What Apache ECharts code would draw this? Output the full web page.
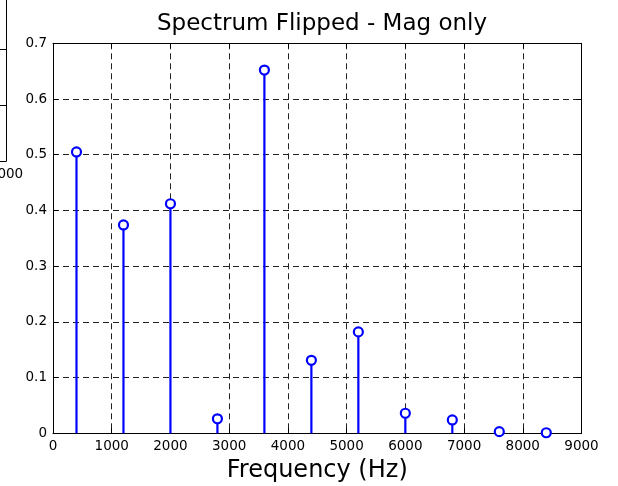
<!DOCTYPE html>
<html>
<head>
<meta charset="utf-8">
<script src="https://cdn.jsdelivr.net/npm/echarts@6/dist/echarts.min.js"></script>
<style>
  html, body { margin: 0; padding: 0; background: #fff; }
  #chart { width: 618px; height: 486px; }
</style>
</head>
<body>
<div id="chart"></div>
<script>
// stem plot: flipped spectrum, magnitude only
var freqs = [400, 1200, 2000, 2800, 3600, 4400, 5200, 6000, 6800, 7600, 8400]
var mags = [0.505, 0.374, 0.412, 0.026, 0.652, 0.131, 0.182, 0.036, 0.024, 0.003, 0.001]
var xTicks = [0, 1000, 2000, 3000, 4000, 5000, 6000, 7000, 8000, 9000]
var yTicks = [0, 0.1, 0.2, 0.3, 0.4, 0.5, 0.6, 0.7]

var font = 'DejaVu Sans'
var blue = '#0000ff'
var gridLine = { show: true, lineStyle: { color: '#222', width: 1, type: [6, 4] } }

var stemData = freqs.map(function (f, i) { return [f, mags[i]] })

var chart = echarts.init(document.getElementById('chart'), null, { renderer: 'canvas' })

var option = {
    backgroundColor: '#fff',
    animation: false,
    title: {
        text: 'Spectrum Flipped - Mag only',
        left: 317,
        textAlign: 'center',
        top: 8,
        textStyle: { fontFamily: font, fontSize: 23, fontWeight: 'normal', color: '#000' }
    },
    grid: [
        { left: 53, right: 36.5, top: 43.3, bottom: 52.7, outerBoundsMode: 'none' },
        // leftover of the neighbouring subplot, clipped at the left edge
        { left: -400, right: 612, top: -7, bottom: 325, outerBoundsMode: 'none' }
    ],
    xAxis: [{
        type: 'value', gridIndex: 0, min: 0, max: 9000, interval: 1000,
        axisLine: { show: true, onZero: false, lineStyle: { color: '#000', width: 1 } },
        axisTick: { show: true, inside: true, length: 5, lineStyle: { color: '#000' } },
        axisLabel: { color: '#000', fontFamily: font, fontSize: 13.5, margin: 6,
            formatter: function (v) { return xTicks.indexOf(v) >= 0 ? String(v) : '' } },
        splitLine: gridLine,
        name: 'Frequency (Hz)', nameLocation: 'middle', nameGap: 25,
        nameTextStyle: { fontFamily: font, fontSize: 24, color: '#000' }
    }, {
        type: 'value', gridIndex: 0, position: 'top', min: 0, max: 9000, interval: 1000,
        axisLine: { show: true, onZero: false, lineStyle: { color: '#000', width: 1 } },
        axisTick: { show: true, inside: true, length: 5, lineStyle: { color: '#000' } },
        axisLabel: { show: false }, splitLine: { show: false }
    }, {
        type: 'value', gridIndex: 1, min: 0, max: 4000, interval: 1000,
        axisLine: { show: true, onZero: false, lineStyle: { color: '#000', width: 1 } },
        axisTick: { show: false },
        axisLabel: { color: '#000', fontFamily: font, fontSize: 13.5, margin: 6, showMaxLabel: true,
            formatter: function (v) { return String(v) } },
        splitLine: { show: false }
    }],
    yAxis: [{
        type: 'value', gridIndex: 0, min: 0, max: 0.7, interval: 0.1,
        axisLine: { show: true, onZero: false, lineStyle: { color: '#000', width: 1 } },
        axisTick: { show: true, inside: true, length: 5, lineStyle: { color: '#000' } },
        axisLabel: { color: '#000', fontFamily: font, fontSize: 13.5, margin: 6,
            formatter: function (v) { return v === 0 ? '0' : v.toFixed(1) } },
        splitLine: gridLine
    }, {
        type: 'value', gridIndex: 0, position: 'right', min: 0, max: 0.7, interval: 0.1,
        axisLine: { show: true, onZero: false, lineStyle: { color: '#000', width: 1 } },
        axisTick: { show: true, inside: true, length: 5, lineStyle: { color: '#000' } },
        axisLabel: { show: false }, splitLine: { show: false }
    }, {
        type: 'value', gridIndex: 1, position: 'right', min: 0, max: 3, interval: 1,
        axisLine: { show: true, onZero: false, lineStyle: { color: '#000', width: 1 } },
        axisTick: { show: true, inside: true, length: 6, lineStyle: { color: '#000' } },
        axisLabel: { show: false }, splitLine: { show: false }
    }],
    series: [{
        type: 'custom',
        xAxisIndex: 0, yAxisIndex: 0,
        data: stemData,
        renderItem: function (params, api) {
            var p0 = api.coord([api.value(0), 0])
            var p1 = api.coord([api.value(0), api.value(1)])
            return {
                type: 'line',
                shape: { x1: p0[0], y1: p0[1], x2: p1[0], y2: p1[1] },
                style: { stroke: blue, lineWidth: 2.2 }
            }
        },
        z: 3
    }, {
        type: 'scatter',
        xAxisIndex: 0, yAxisIndex: 0,
        data: stemData,
        symbol: 'circle',
        symbolSize: 9,
        itemStyle: { color: '#fff', borderColor: blue, borderWidth: 2.2, opacity: 1 },
        z: 4
    }]
}

chart.setOption(option)
</script>
</body>
</html>
